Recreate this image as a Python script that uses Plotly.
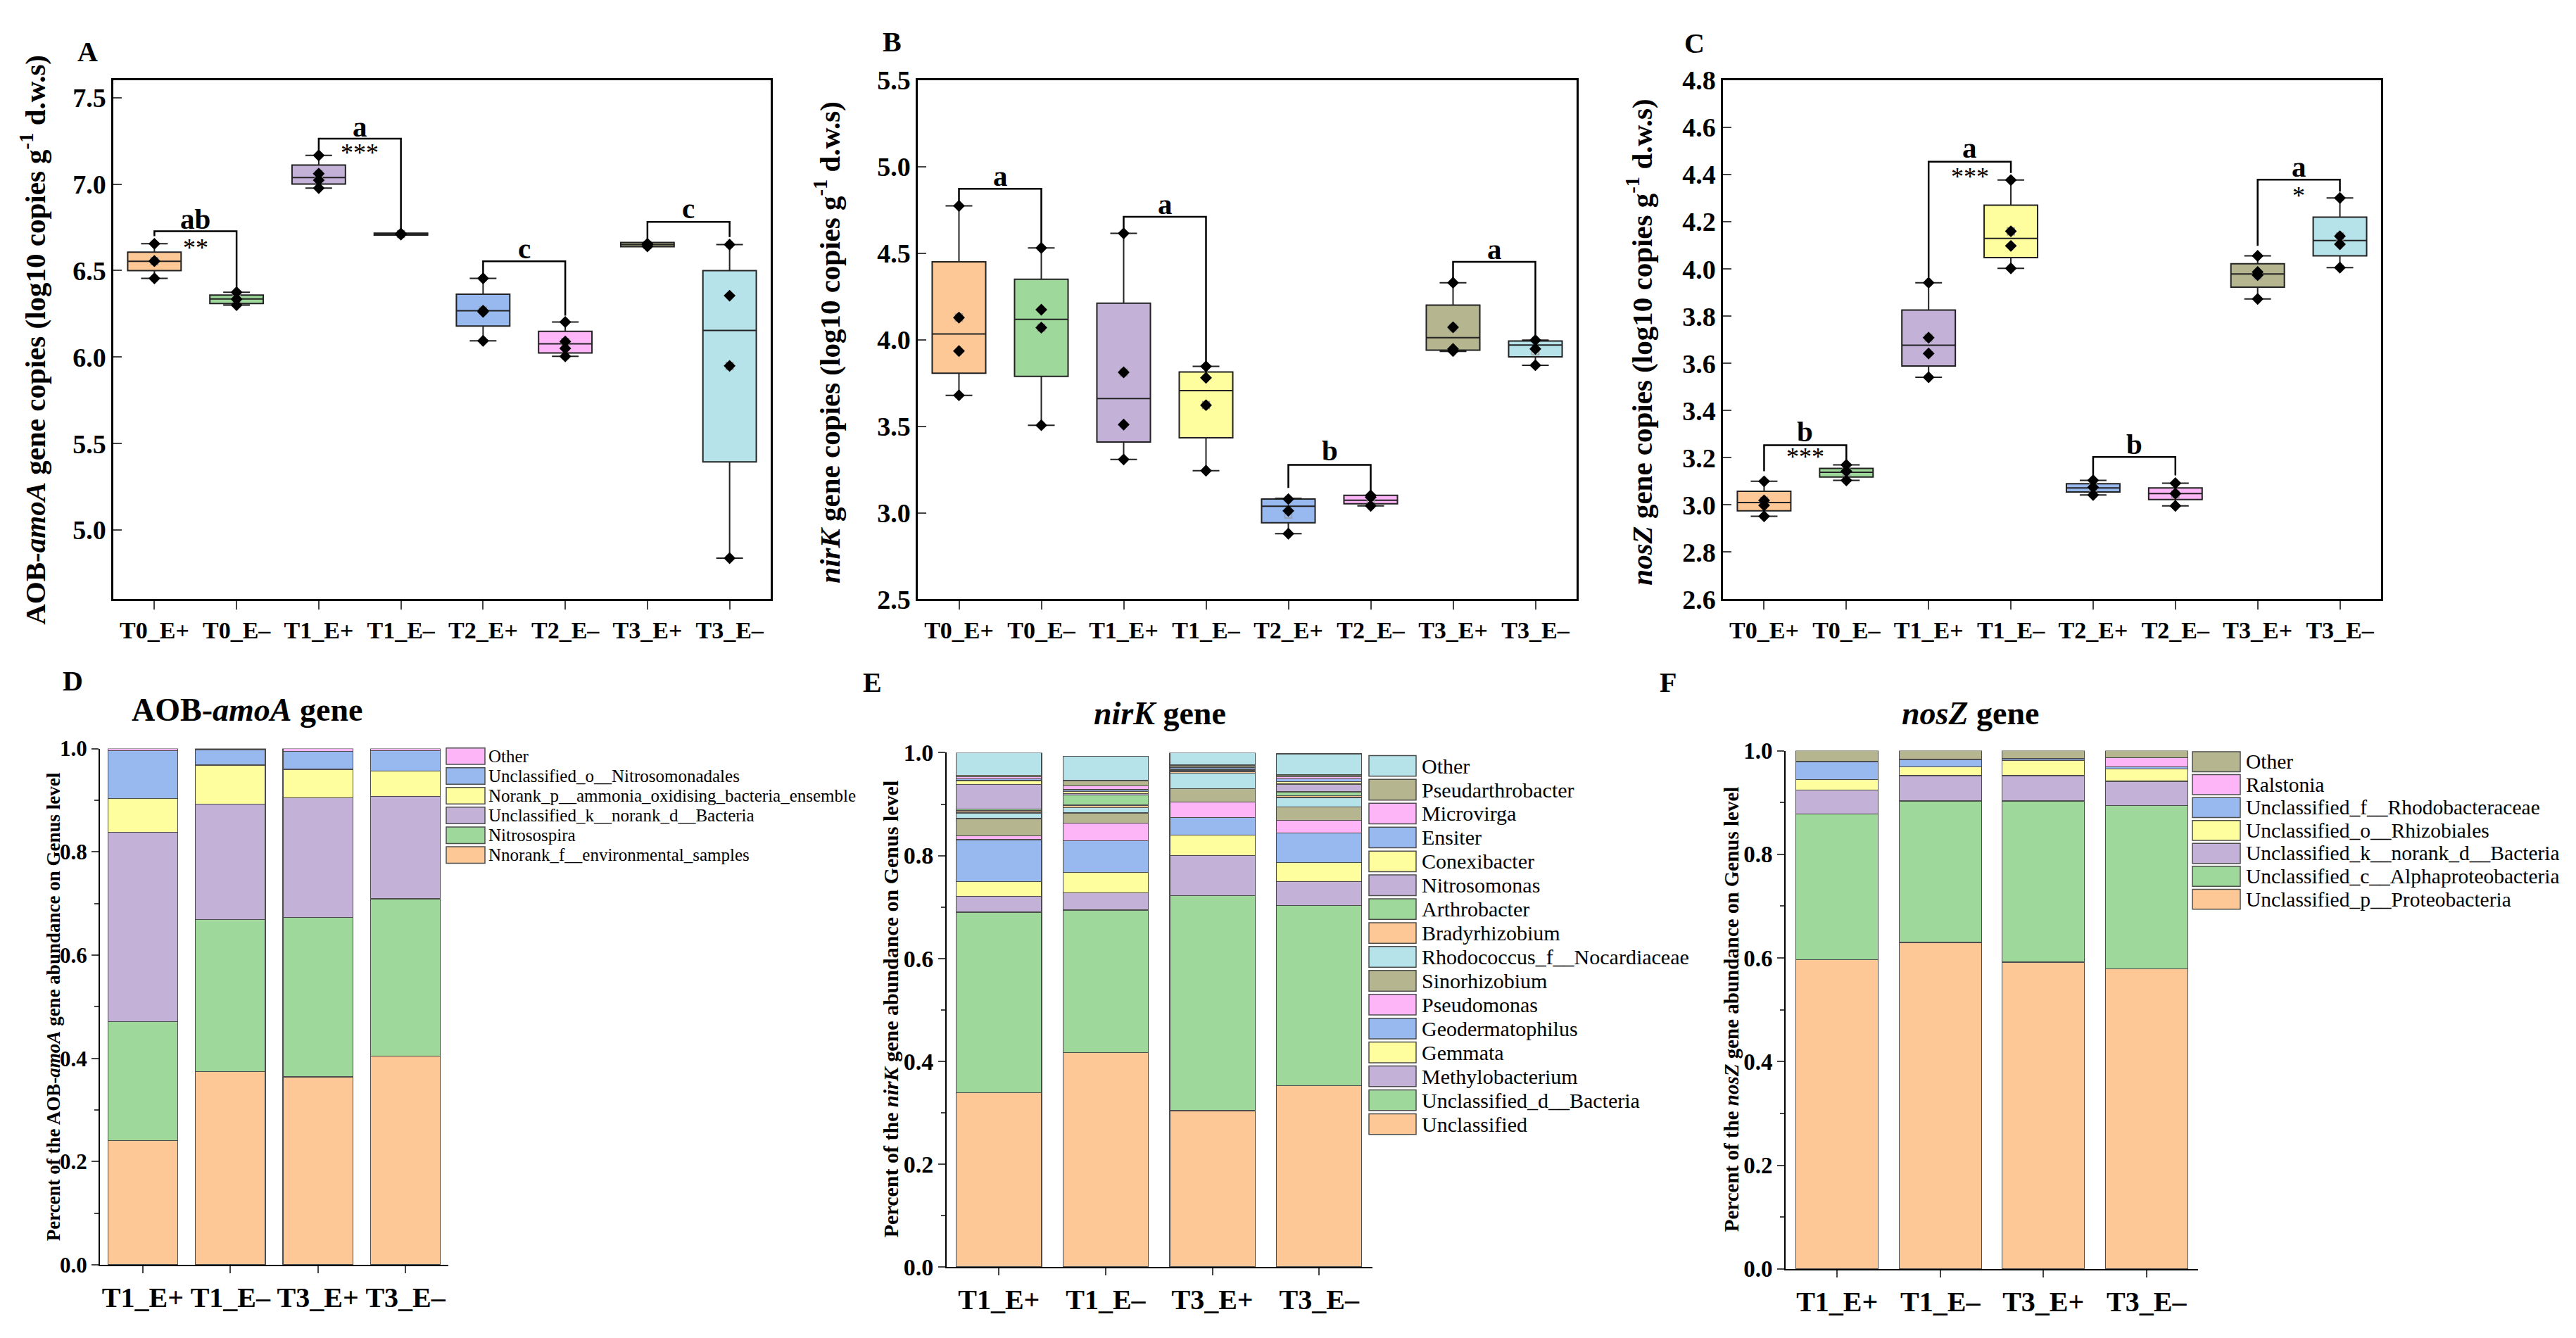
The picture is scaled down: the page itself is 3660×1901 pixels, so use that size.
#%%
import numpy as np
import plotly.graph_objects as go

FONT = "Liberation Serif, Times New Roman, serif"

#%%
# Datos de los boxplots (A, B, C)
grupos = ["T0_E+", "T0_E–", "T1_E+", "T1_E–", "T2_E+", "T2_E–", "T3_E+", "T3_E–"]
colores_box = ["#FDC896", "#9ED89A", "#C3B1D7", "#FEFE9F", "#98B9F0", "#FDB5F8", "#B5B68F", "#B6E3E9"]

# A: AOB-amoA
a_q1 = [6.500, 6.310, 7.000, 6.705, 6.179, 6.024, 6.638, 5.394]
a_med = [6.554, 6.336, 7.038, 6.711, 6.268, 6.077, 6.650, 6.154]
a_q3 = [6.607, 6.358, 7.110, 6.716, 6.363, 6.149, 6.663, 6.500]
a_lo = [6.455, 6.300, 6.977, 6.705, 6.094, 6.004, 6.638, 4.838]
a_hi = [6.655, 6.375, 7.166, 6.716, 6.455, 6.203, 6.663, 6.650]
a_pts = [[6.655, 6.555, 6.555, 6.455], [6.375, 6.335, 6.300], [7.166, 7.060, 7.023, 6.977],
         [6.714, 6.711, 6.708], [6.455, 6.268, 6.262, 6.094], [6.203, 6.090, 6.050, 6.004],
         [6.655, 6.650, 6.640], [6.650, 6.355, 5.949, 4.838]]

# B: nirK
b_q1 = [3.807, 3.788, 3.409, 3.433, 2.942, 3.052, 3.940, 3.901]
b_med = [4.034, 4.118, 3.660, 3.706, 3.038, 3.072, 4.012, 3.969]
b_q3 = [4.451, 4.350, 4.212, 3.814, 3.079, 3.101, 4.200, 3.993]
b_lo = [3.679, 3.506, 3.308, 3.243, 2.879, 3.040, 3.933, 3.853]
b_hi = [4.774, 4.531, 4.615, 3.846, 3.084, 3.101, 4.330, 3.998]
b_pts = [[4.774, 4.128, 3.935, 3.679], [4.531, 4.174, 4.070, 3.506], [4.615, 3.812, 3.510, 3.308],
         [3.846, 3.780, 3.622, 3.243], [3.079, 3.011, 2.879], [3.100, 3.090, 3.040],
         [4.330, 4.072, 3.947, 3.935], [3.998, 3.947, 3.853]]

# C: nosZ
c_q1 = [2.975, 3.118, 3.589, 4.048, 3.055, 3.023, 3.923, 4.056]
c_med = [3.010, 3.138, 3.677, 4.130, 3.072, 3.048, 3.979, 4.121]
c_q3 = [3.058, 3.155, 3.826, 4.271, 3.090, 3.072, 4.022, 4.220]
c_lo = [2.952, 3.104, 3.541, 4.003, 3.042, 2.996, 3.873, 4.006]
c_hi = [3.100, 3.170, 3.942, 4.377, 3.104, 3.092, 4.056, 4.301]
c_pts = [[3.100, 3.019, 2.998, 2.952], [3.170, 3.143, 3.104], [3.942, 3.709, 3.642, 3.541],
         [4.377, 4.160, 4.098, 4.003], [3.104, 3.075, 3.042], [3.092, 3.048, 2.996],
         [4.056, 3.987, 3.974, 3.873], [4.301, 4.139, 4.105, 4.006]]

# Corchetes: (izq, der, y barra, fin pata izq, fin pata der, letra, y letra, estrellas, y estrellas)
a_corch = [(0, 1, 6.728, 6.699, 6.392, "ab", 6.80, "**", 6.633),
           (2, 3, 7.263, 7.183, 6.723, "a", 7.33, "***", 7.18),
           (4, 5, 6.554, 6.476, 6.239, "c", 6.626, "", 0),
           (6, 7, 6.781, 6.682, 6.694, "c", 6.86, "", 0)]
b_corch = [(0, 1, 4.873, 4.784, 4.543, "a", 4.948, "", 0),
           (2, 3, 4.711, 4.627, 3.855, "a", 4.784, "", 0),
           (4, 5, 3.277, 3.144, 3.120, "b", 3.361, "", 0),
           (6, 7, 4.451, 4.350, 4.007, "a", 4.523, "", 0)]
c_corch = [(0, 1, 3.253, 3.143, 3.187, "b", 3.311, "***", 3.205),
           (2, 3, 4.455, 3.965, 4.407, "a", 4.514, "***", 4.39),
           (4, 5, 3.203, 3.117, 3.125, "b", 3.258, "", 0),
           (6, 7, 4.379, 4.098, 4.328, "a", 4.434, "*", 4.31)]

#%%
# Datos de barras apiladas (D, E, F)
muestras = ["T1_E+", "T1_E–", "T3_E+", "T3_E–"]
colores_bar = ["#FDC896", "#9ED89A", "#C3B1D7", "#FEFE9F", "#98B9F0", "#FDB5F8", "#B5B68F", "#B6E3E9"]

amoa_taxa = ["Nnorank_f__environmental_samples", "Nitrosospira", "Unclassified_k__norank_d__Bacteria",
             "Norank_p__ammonia_oxidising_bacteria_ensemble", "Unclassified_o__Nitrosomonadales", "Other"]
amoa_vals = [[0.241, 0.374, 0.364, 0.404],
             [0.230, 0.295, 0.309, 0.305],
             [0.367, 0.223, 0.232, 0.199],
             [0.065, 0.076, 0.055, 0.049],
             [0.093, 0.030, 0.035, 0.039],
             [0.004, 0.002, 0.005, 0.004]]
amoa_cols = ["#FDC896", "#9ED89A", "#C3B1D7", "#FEFE9F", "#98B9F0", "#FDB5F8"]

nirk_taxa = ["Unclassified", "Unclassified_d__Bacteria", "Methylobacterium", "Gemmata", "Geodermatophilus",
             "Pseudomonas", "Sinorhizobium", "Rhodococcus_f__Nocardiaceae", "Bradyrhizobium", "Arthrobacter",
             "Nitrosomonas", "Conexibacter", "Ensiter", "Microvirga", "Pseudarthrobacter", "Other"]
nirk_vals = [[0.339, 0.417, 0.304, 0.353],
             [0.351, 0.277, 0.418, 0.350],
             [0.031, 0.034, 0.078, 0.047],
             [0.029, 0.039, 0.040, 0.036],
             [0.081, 0.062, 0.034, 0.058],
             [0.007, 0.034, 0.030, 0.025],
             [0.034, 0.020, 0.026, 0.026],
             [0.011, 0.010, 0.030, 0.018],
             [0.004, 0.005, 0.003, 0.003],
             [0.004, 0.020, 0.002, 0.008],
             [0.047, 0.003, 0.002, 0.015],
             [0.008, 0.004, 0.002, 0.005],
             [0.003, 0.003, 0.002, 0.005],
             [0.004, 0.008, 0.002, 0.004],
             [0.003, 0.010, 0.003, 0.004],
             [0.044, 0.047, 0.024, 0.041]]

nosz_taxa = ["Unclassified_p__Proteobacteria", "Unclassified_c__Alphaproteobacteria",
             "Unclassified_k__norank_d__Bacteria", "Unclassified_o__Rhizobiales",
             "Unclassified_f__Rhodobacteraceae", "Ralstonia", "Other"]
nosz_vals = [[0.597, 0.630, 0.592, 0.579],
             [0.281, 0.273, 0.311, 0.315],
             [0.046, 0.049, 0.049, 0.047],
             [0.020, 0.017, 0.029, 0.024],
             [0.034, 0.013, 0.003, 0.004],
             [0.001, 0.001, 0.001, 0.017],
             [0.021, 0.017, 0.015, 0.014]]
nosz_cols = ["#FDC896", "#9ED89A", "#C3B1D7", "#FEFE9F", "#98B9F0", "#FDB5F8", "#B5B68F"]

#%%
W, H = 3660, 1901
fig = go.Figure()


def agregar_boxplot(n, q1, med, q3, lo, hi, pts, corch):
    xa, ya = "x%d" % n if n > 1 else "x", "y%d" % n if n > 1 else "y"
    for i, g in enumerate(grupos):
        fig.add_trace(go.Box(
            x=[g], q1=[q1[i]], median=[med[i]], q3=[q3[i]],
            lowerfence=[lo[i]], upperfence=[hi[i]],
            width=0.65, whiskerwidth=0.5,
            fillcolor=colores_box[i], line=dict(color="#222222", width=2),
            showlegend=False, hoverinfo="skip", xaxis=xa, yaxis=ya))
        # media (cuadro hueco) y puntos
        fig.add_trace(go.Scatter(
            x=[g], y=[np.mean(pts[i])], mode="markers",
            marker=dict(symbol="square-open", size=10, color="#9a9a9a", line=dict(width=1.5)),
            showlegend=False, hoverinfo="skip", xaxis=xa, yaxis=ya))
        fig.add_trace(go.Scatter(
            x=[g] * len(pts[i]), y=pts[i], mode="markers",
            marker=dict(symbol="diamond", size=13, color="black"),
            showlegend=False, xaxis=xa, yaxis=ya))
    for (i, j, yb, yl, yr, letra, yletra, est, yest) in corch:
        fig.add_trace(go.Scatter(
            x=[grupos[i], grupos[i], grupos[j], grupos[j]], y=[yl, yb, yb, yr],
            mode="lines", line=dict(color="black", width=2.5),
            showlegend=False, hoverinfo="skip", xaxis=xa, yaxis=ya))
        fig.add_annotation(x=(i + j) / 2, y=yletra, xref=xa, yref=ya, text="<b>%s</b>" % letra,
                           xanchor="center", yanchor="middle",
                           showarrow=False, font=dict(family=FONT, size=41, color="black"))
        if est:
            fig.add_annotation(x=(i + j) / 2, y=yest, xref=xa, yref=ya, text=est,
                               xanchor="center", yanchor="middle",
                               showarrow=False, font=dict(family=FONT, size=36, color="black"))


agregar_boxplot(1, a_q1, a_med, a_q3, a_lo, a_hi, a_pts, a_corch)
agregar_boxplot(2, b_q1, b_med, b_q3, b_lo, b_hi, b_pts, b_corch)
agregar_boxplot(3, c_q1, c_med, c_q3, c_lo, c_hi, c_pts, c_corch)


def agregar_barras(n, taxa, vals, cols):
    for k, t in enumerate(taxa):
        fig.add_trace(go.Bar(
            x=muestras, y=vals[k], name=t, showlegend=False,
            marker=dict(color=cols[k % len(cols)], line=dict(color="#4d4d4d", width=1.2)),
            xaxis="x%d" % n, yaxis="y%d" % n))


agregar_barras(4, amoa_taxa, amoa_vals, amoa_cols)
agregar_barras(5, nirk_taxa, nirk_vals, colores_bar)
agregar_barras(6, nosz_taxa, nosz_vals, nosz_cols)


# Leyendas dibujadas a mano (cajas grandes como en el original), "Other" arriba
def leyenda(taxa, cols, x0, x1, y_primera, paso, alto, xt, tam):
    n = len(taxa)
    for k, t in enumerate(taxa):
        fila = n - 1 - k
        yc = y_primera + fila * paso
        fig.add_shape(type="rect", xref="paper", yref="paper",
                      x0=x0 / W, x1=x1 / W, y0=1 - (yc + alto / 2) / H, y1=1 - (yc - alto / 2) / H,
                      fillcolor=cols[k % len(cols)], line=dict(color="#4d4d4d", width=1.5))
        fig.add_annotation(x=xt / W, y=1 - yc / H, xref="paper", yref="paper", text=t,
                           xanchor="left", yanchor="middle", showarrow=False,
                           font=dict(family=FONT, size=tam, color="black"))


leyenda(amoa_taxa, amoa_cols, 626, 681, 1069, 28.7, 24, 684, 25)
leyenda(nirk_taxa, colores_bar, 1937, 2004, 1083, 34.7, 30, 2010, 30)
leyenda(nosz_taxa, nosz_cols, 3107, 3175, 1077, 33.3, 29, 3181, 29.5)

#%%
# Ejes


def dom_x(a, b):
    return [a / W, b / W]


def dom_y(top, bottom):
    return [1 - bottom / H, 1 - top / H]


def eje_x_box(dom, anchor):
    return dict(domain=dom, anchor=anchor, type="category", range=[-0.5, 7.5],
                showline=True, linecolor="black", linewidth=2.5, mirror=True,
                ticks="outside", ticklen=12, tickwidth=2, showgrid=False, zeroline=False,
                tickfont=dict(family=FONT, size=34, color="black", weight="bold"))


def eje_y_box(dom, anchor, rng, dt):
    return dict(domain=dom, anchor=anchor, range=rng, dtick=dt, tick0=0, tickformat=".1f",
                showline=True, linecolor="black", linewidth=2.5, mirror=True,
                ticks="inside", ticklen=12, tickwidth=2, showgrid=False, zeroline=False,
                tickfont=dict(family=FONT, size=38, color="black", weight="bold"))


def eje_x_bar(dom, anchor, rng):
    return dict(domain=dom, anchor=anchor, range=rng, showline=True, linecolor="black", linewidth=2,
                ticks="outside", ticklen=10, tickwidth=2, showgrid=False, zeroline=False,
                tickfont=dict(family=FONT, size=40, color="black", weight="bold"))


def eje_y_bar(dom, anchor, tam):
    return dict(domain=dom, anchor=anchor, range=[0, 1.0], dtick=0.2, tickformat=".1f",
                showline=True, linecolor="black", linewidth=2,
                ticks="outside", ticklen=10, tickwidth=2, showgrid=False, zeroline=False,
                minor=dict(dtick=0.1, ticks="outside", ticklen=6, tickwidth=1.5, showgrid=False),
                tickfont=dict(family=FONT, size=tam, color="black", weight="bold"))


fila1 = dom_y(87, 841)
fig.update_layout(
    width=W, height=H, margin=dict(l=0, r=0, t=0, b=0),
    paper_bgcolor="white", plot_bgcolor="white", barmode="stack", bargap=0.2,
    font=dict(family=FONT, color="black"), showlegend=False,
    xaxis=eje_x_box(dom_x(153, 1087), "y"),
    yaxis=eje_y_box(fila1, "x", [4.6, 7.6], 0.5),
    xaxis2=eje_x_box(dom_x(1296, 2232), "y2"),
    yaxis2=eje_y_box(fila1, "x2", [2.5, 5.5], 0.5),
    xaxis3=eje_x_box(dom_x(2440, 3375), "y3"),
    yaxis3=eje_y_box(fila1, "x3", [2.6, 4.8], 0.2),
    xaxis4=eje_x_bar(dom_x(134, 629), "y4", [-0.49, 3.49]),
    yaxis4=eje_y_bar(dom_y(1058, 1808), "x4", 31),
    xaxis5=eje_x_bar(dom_x(1337, 1942), "y5", [-0.49, 3.5]),
    yaxis5=eje_y_bar(dom_y(1064, 1811), "x5", 34),
    xaxis6=eje_x_bar(dom_x(2529, 3115), "y6", [-0.5, 3.5]),
    yaxis6=eje_y_bar(dom_y(1061, 1814), "x6", 33),
)

#%%
# Títulos de ejes, títulos de paneles y letras
sup = "log10 copies g<sup>-1</sup> d.w.s"
titulos_y = [
    (39, 464, "<b>AOB-<i>amoA</i> gene copies (%s)</b>" % sup, 41),
    (1167, 468, "<b><i>nirK</i> gene copies (%s)</b>" % sup, 41),
    (2321, 468, "<b><i>nosZ</i> gene copies (%s)</b>" % sup, 41),
    (68, 1433, "<b>Percent of the AOB-<i>amoA</i> gene abundance on Genus level</b>", 27),
    (1257, 1437, "<b>Percent of the <i>nirK</i> gene abundance on Genus level</b>", 30),
    (2452, 1437, "<b>Percent of the <i>nosZ</i> gene abundance on Genus level</b>", 29),
]
for px_, py_, txt, tam in titulos_y:
    fig.add_annotation(x=px_ / W, y=1 - py_ / H, xref="paper", yref="paper", text=txt, textangle=-90,
                       xanchor="center", yanchor="middle",
                       showarrow=False, font=dict(family=FONT, size=tam, color="black"))

fig.add_annotation(x=177 / W, y=1 - 1002 / H, xref="paper", yref="paper", xanchor="left", yanchor="middle",
                   text="<b>AOB-<i>amoA</i> gene</b>", showarrow=False,
                   font=dict(family=FONT, size=46, color="black"))
fig.add_annotation(x=1640 / W, y=1 - 1007 / H, xref="paper", yref="paper", xanchor="center", yanchor="middle",
                   text="<b><i>nirK</i> gene</b>", showarrow=False,
                   font=dict(family=FONT, size=46, color="black"))
fig.add_annotation(x=2792 / W, y=1 - 1007 / H, xref="paper", yref="paper", xanchor="center", yanchor="middle",
                   text="<b><i>nosZ</i> gene</b>", showarrow=False,
                   font=dict(family=FONT, size=46, color="black"))

letras = [("A", 116, 45), ("B", 1259, 31), ("C", 2399, 33), ("D", 95, 960), ("E", 1231, 962), ("F", 2362, 962)]
for l, px_, py_ in letras:
    fig.add_annotation(x=px_ / W, y=1 - py_ / H, xref="paper", yref="paper", text="<b>%s</b>" % l,
                       xanchor="center", yanchor="middle",
                       showarrow=False, font=dict(family=FONT, size=40, color="black"))

fig.write_html("out.html")
